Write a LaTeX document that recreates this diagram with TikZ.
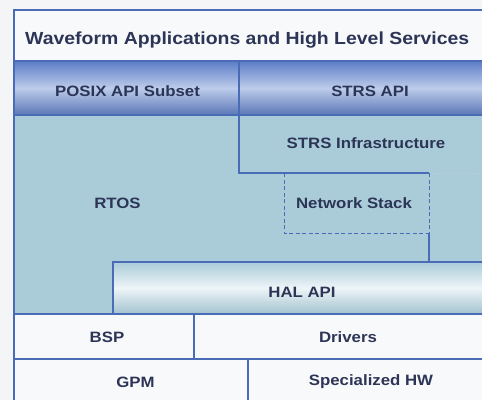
\documentclass[tikz,border=0pt]{standalone}
\usepackage{fontspec}
\setmainfont{Liberation Sans}
\newfontfamily\titlefont{Liberation Sans}[FakeStretch=1.11]
\newfontfamily\lblfont{Liberation Sans}[FakeStretch=1.12]
\definecolor{bgc}{HTML}{F3F5F7}
\definecolor{cellwhite}{HTML}{F8F9FB}
\definecolor{lineblue}{HTML}{4A6BB6}
\definecolor{rtosblue}{HTML}{AACCD9}
\definecolor{apidark}{HTML}{5B7CC6}
\definecolor{apilight}{HTML}{BDCCEB}
\definecolor{halwhite}{HTML}{EEF5F8}
\definecolor{txt}{HTML}{2C3556}
\tikzset{
  layer/.style={draw=lineblue, line width=1.3pt},
  netdash/.style={draw=lineblue, line width=1pt, dash pattern=on 4pt off 2.5pt},
  faint/.style={draw=lineblue!35, line width=0.8pt, dash pattern=on 1pt off 1.5pt},
  lbl/.style={text=txt, inner sep=0pt, font=\lblfont\bfseries\fontsize{15}{18}\selectfont},
  ttl/.style={text=txt, inner sep=0pt, font=\titlefont\bfseries\fontsize{17.5}{20}\selectfont}
}
\begin{document}
\begin{tikzpicture}[x=1pt,y=-1pt]
\useasboundingbox (0,0) rectangle (482,400);
\clip (0,0) rectangle (482,400);
\fill[bgc] (0,0) rectangle (482,400);
% title band
\fill[cellwhite] (14,10) rectangle (500,61);
% API row gradient
\shade[top color=apidark, bottom color=apidark!90!black!95, middle color=apilight] (14,61) rectangle (500,115);
% RTOS / STRS infrastructure region
\fill[rtosblue] (14,115) rectangle (500,314);
% HAL API gradient
\shade[top color=rtosblue, bottom color=rtosblue!95!black, middle color=halwhite] (113,262) rectangle (500,314);
% bottom rows
\fill[cellwhite] (14,314) rectangle (500,400);
% lines
\draw[layer] (14,400) -- (14,10) -- (500,10);
\draw[layer] (14,61) -- (500,61);
\draw[layer] (14,115) -- (500,115);
\draw[layer] (239,61) -- (239,173) -- (429,173);
\draw[faint] (429,173) -- (500,173);
\draw[netdash] (284,173) -- (284,233) -- (429,233);
\draw[netdash] (429,173) -- (429,233);
\draw[layer] (429,233) -- (429,262);
\draw[layer] (113,314) -- (113,262) -- (500,262);
\draw[layer] (14,314) -- (500,314);
\draw[layer] (194,314) -- (194,359);
\draw[layer] (14,359) -- (500,359);
\draw[layer] (248,359) -- (248,400);
% texts
\node[ttl, anchor=west] (title) at (25,40) {Waveform Applications and High Level Services};
\node[lbl] (posix) at (127.5,91) {POSIX API Subset};
\node[lbl] (strsapi) at (370,91) {STRS API};
\node[lbl] (strsinf) at (366,143) {STRS Infrastructure};
\node[lbl] (rtos) at (117.5,203) {RTOS};
\node[lbl] (net) at (354,203) {Network Stack};
\node[lbl] (hal) at (302,292) {HAL API};
\node[lbl] (bsp) at (107,337) {BSP};
\node[lbl] (drv) at (348,337) {Drivers};
\node[lbl] (gpm) at (135.5,382) {GPM};
\node[lbl] (shw) at (371,382) {Specialized HW};
\end{tikzpicture}
\end{document}
